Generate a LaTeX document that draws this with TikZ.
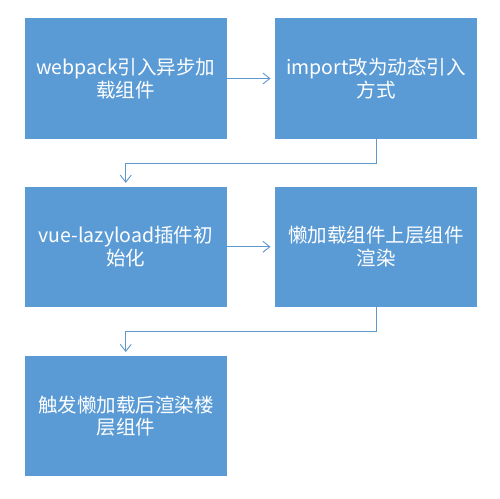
\documentclass[tikz,border=0pt]{standalone}
\usepackage{fontspec}
\newfontfamily\cjk{Noto Sans CJK SC}
\usetikzlibrary{arrows.meta}
\definecolor{boxblue}{HTML}{5B9BD5}
\definecolor{lineblue}{HTML}{5E98CF}
\tikzset{
  stepbox/.style={fill=boxblue, draw=none, minimum width=202.5pt, minimum height=120.5pt,
    inner sep=0pt, text=white, align=center, font=\cjk\fontsize{19.5}{22.5}\selectfont},
  conn/.style={draw=lineblue, line width=0.9pt, -{Straight Barb[length=7pt,width=11pt]}}
}
\begin{document}
\begin{tikzpicture}[x=1pt,y=-1pt]
\useasboundingbox (0,0) rectangle (500,498);
\node[stepbox] (a) at (125.75,78.5) {webpack引入异步加\\载组件};
\node[stepbox] (b) at (376,78.5) {import改为动态引入\\方式};
\node[stepbox] (c) at (125.75,246.8) {vue-lazyload插件初\\始化};
\node[stepbox] (d) at (376,246.8) {懒加载组件上层组件\\渲染};
\node[stepbox] (e) at (125.75,416) {触发懒加载后渲染楼\\层组件};
\draw[conn, shorten >=4pt] (a.east) -- (b.west);
\draw[conn, shorten >=4pt] (c.east) -- (d.west);
\draw[conn, shorten >=3.5pt] (b.south) -- ++(0,24) -| (c.north);
\draw[conn, shorten >=3.5pt] (d.south) -- ++(0,24.5) -| (e.north);
\end{tikzpicture}
\end{document}
